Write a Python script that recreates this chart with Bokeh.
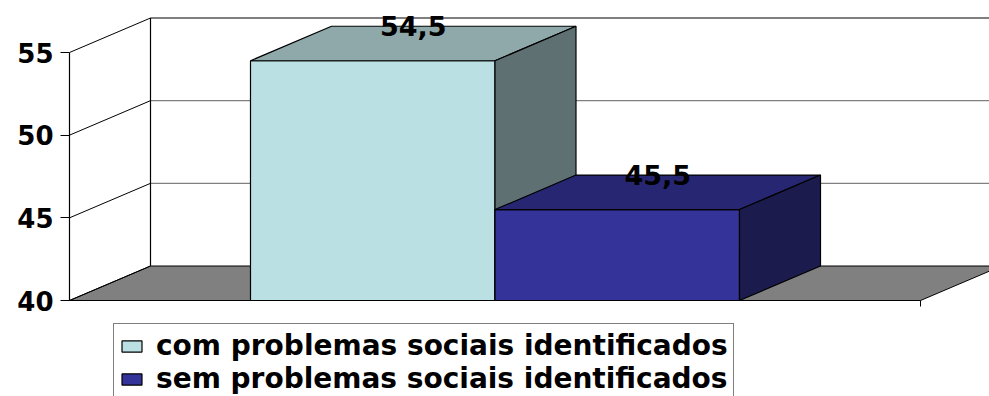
from bokeh.plotting import figure
from bokeh.models import Range1d, FixedTicker, Legend, LegendItem
from bokeh.core.properties import value
from bokeh.embed import file_html
from bokeh.resources import INLINE

# ---- data ----
series = ["com problemas sociais identificados", "sem problemas sociais identificados"]
values = [54.5, 45.5]
value_labels = ["54,5", "45,5"]
y_ticks = [40, 45, 50, 55]

# ---- styles ----
front_colors = ["#BBE0E3", "#333399"]
top_colors = ["#8FA9AB", "#262673"]
side_colors = ["#5E7072", "#1B1B4D"]
FONT = "DejaVu Sans"

# ---- layout (pixel-derived geometry) ----
W, H = 989, 396
LEFT = 66                     # frame left in px
PX = 15.0 / 248.0             # value units per pixel
Y0, Y1 = y_ticks[0], y_ticks[-1]
y_top = Y1 + 52 * PX
y_bot = Y0 - 96 * PX
FLOOR_W = 851
DX = 81
DY = 34.5 * PX
BAR_W = 244.5
CENTER = FLOOR_W / 2.0

p = figure(width=W, height=H, output_backend="svg", toolbar_location=None,
           x_range=Range1d(-3, W - LEFT - 3), y_range=Range1d(y_bot, y_top),
           x_axis_location=None, min_border_left=LEFT, min_border_right=0,
           min_border_top=0, min_border_bottom=0)
p.outline_line_color = None
p.grid.visible = False
p.background_fill_color = "white"
p.border_fill_color = "white"

ax = p.yaxis[0]
ax.ticker = FixedTicker(ticks=y_ticks)
ax.axis_line_color = None
ax.major_tick_out = 6
ax.major_tick_in = 3
ax.minor_tick_line_color = None
ax.major_tick_line_color = "black"
ax.major_label_standoff = 7
ax.major_label_text_font = FONT
ax.major_label_text_font_style = "bold"
ax.major_label_text_font_size = "26px"
ax.major_label_text_color = "black"

# floor
p.patch([0, FLOOR_W, FLOOR_W + DX, DX], [Y0, Y0, Y0 + DY, Y0 + DY],
        fill_color="#808080", line_color="black", line_width=1)
# floor right tick
p.segment([FLOOR_W], [Y0], [FLOOR_W], [Y0 - 6 * PX], line_color="black")

# back wall
far_x = W - LEFT + 20
mid = y_ticks[1:-1]
p.segment([DX] * len(mid), [t + DY for t in mid], [far_x] * len(mid), [t + DY for t in mid],
          line_color="#808080", line_width=1.2)
p.segment([DX], [Y1 + DY], [far_x], [Y1 + DY], line_color="black", line_width=1.2)
p.segment([DX], [Y0 + DY], [DX], [Y1 + DY], line_color="black", line_width=1.2)
# side wall diagonals
p.segment([0] * len(y_ticks), y_ticks, [DX] * len(y_ticks), [t + DY for t in y_ticks],
          line_color="black", line_width=1)

front_renderers = []
for i, v in enumerate(values):
    x0 = CENTER - BAR_W + i * BAR_W
    x1 = x0 + BAR_W
    fr = p.quad(left=[x0], right=[x1], bottom=[Y0], top=[v],
                fill_color=front_colors[i], line_color="black", line_width=1.2)
    p.patch([x0, x1, x1 + DX, x0 + DX], [v, v, v + DY, v + DY],
            fill_color=top_colors[i], line_color="black", line_width=1.2)
    p.patch([x1, x1 + DX, x1 + DX, x1], [Y0, Y0 + DY, v + DY, v],
            fill_color=side_colors[i], line_color="black", line_width=1.2)
    p.text([x0 + BAR_W / 2 + DX / 2], [v + DY], text=[value_labels[i]],
           text_font=value(FONT), text_font_style="bold", text_font_size="27px",
           text_align="center", text_baseline="middle", text_color="black")
    front_renderers.append(fr)

# front value axis line
p.segment([0], [Y0], [0], [Y1], line_color="black", line_width=1.2)

legend = Legend(items=[LegendItem(label=series[i], renderers=[front_renderers[i]])
                       for i in range(len(series))],
                location=(47, -5))
legend.label_text_font = FONT
legend.label_text_font_style = "bold"
legend.label_text_font_size = "28px"
legend.label_text_color = "black"
legend.label_height = 32
legend.glyph_height = 14
legend.glyph_width = 25
legend.label_standoff = 12
legend.spacing = 0
legend.padding = 5
legend.margin = 0
legend.border_line_color = "black"
legend.border_line_width = 1
legend.background_fill_color = "white"
legend.background_fill_alpha = 1
p.add_layout(legend)

open("out.html", "w").write(file_html(p, INLINE))
